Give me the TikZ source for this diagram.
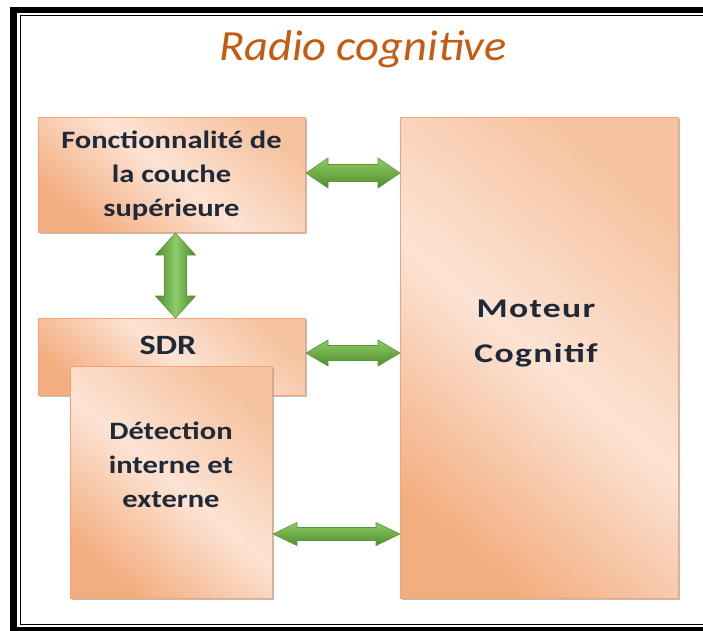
\documentclass[tikz,border=0pt]{standalone}
\usepackage{fontspec}
\setmainfont{Carlito}
\newfontfamily\boxfont[FakeStretch=1.22]{Carlito}
\newfontfamily\motfont[FakeStretch=1.32,LetterSpace=5]{Carlito}
\newfontfamily\titlefont[FakeStretch=1.08]{Carlito}
\usetikzlibrary{calc,shadows}
\definecolor{peachD}{HTML}{F3AE80}
\definecolor{peachM}{HTML}{F6C3A0}
\definecolor{peachL}{HTML}{FCE3D4}
\definecolor{peachB}{HTML}{EFA47A}
\definecolor{titleC}{HTML}{C55A11}
\definecolor{txtC}{HTML}{1F2937}
\definecolor{gLight}{HTML}{8CCB68}
\definecolor{gMid}{HTML}{70AD47}
\definecolor{gDark}{HTML}{4E8A2E}
\definecolor{gEdge}{HTML}{5A963A}
\tikzset{
  box/.style={draw=peachB, line width=1pt, inner sep=0pt,
    top color=peachM, bottom color=peachD, middle color=peachL, shading angle=-40,
    drop shadow={shadow xshift=1.6pt, shadow yshift=-1.6pt, fill=black!45, opacity=0.55},
    anchor=north west},
  boxtext/.style={text=txtC, align=center, font=\boxfont\bfseries\fontsize{25}{34}\selectfont},
  harrow/.style={draw=gEdge, line width=0.6pt, top color=gLight, bottom color=gDark, middle color=gMid},
  varrow/.style={draw=gEdge, line width=0.6pt, left color=gDark, right color=gDark, middle color=gLight},
}
% horizontal double block arrow: #1 left point, #2 right point, #3 head length, #4 half head width, #5 half shaft width
\newcommand\hblockarrow[5]{%
  \path[harrow] let \p1=#1, \p2=#2 in
    (\x1,\y1) -- (\x1+#3,\y1+#4) -- (\x1+#3,\y1+#5) -- (\x2-#3,\y1+#5) -- (\x2-#3,\y1+#4)
    -- (\x2,\y1) -- (\x2-#3,\y1-#4) -- (\x2-#3,\y1-#5) -- (\x1+#3,\y1-#5) -- (\x1+#3,\y1-#4) -- cycle;}
% vertical double block arrow: #1 top point, #2 bottom point
\newcommand\vblockarrow[5]{%
  \path[varrow] let \p1=#1, \p2=#2 in
    (\x1,\y1) -- (\x1+#4,\y1-#3) -- (\x1+#5,\y1-#3) -- (\x1+#5,\y2+#3) -- (\x1+#4,\y2+#3)
    -- (\x1,\y2) -- (\x1-#4,\y2+#3) -- (\x1-#5,\y2+#3) -- (\x1-#5,\y1-#3) -- (\x1-#4,\y1-#3) -- cycle;}
\begin{document}
\begin{tikzpicture}[x=1pt,y=-1pt]
\useasboundingbox (0,0) rectangle (703,630);
\clip (0,0) rectangle (703,630);
\fill[white] (0,0) rectangle (703,630);
% frame
\draw[line width=6.5pt] (13.5,10) rectangle (712,630);
\draw[line width=1.2pt] (20.5,15.8) rectangle (708,624.5);
% title
\node[text=titleC, font=\titlefont\itshape\fontsize{43}{50}\selectfont] (title) at (363,49) {Radio cognitive};
% boxes
\node[box, minimum width=267pt, minimum height=115pt] (f) at (38,117) {};
\node[box, minimum width=267pt, minimum height=77pt] (s) at (38,318) {};
\node[box, minimum width=202pt, minimum height=232pt] (d) at (70,366) {};
\node[box, minimum width=278pt, minimum height=481pt] (m) at (400,117) {};
% texts
\node[boxtext] (ft) at (171.5,175.5) {Fonctionnalit\'e de\\la couche\\sup\'erieure};
\node[boxtext, font=\boxfont\bfseries\fontsize{28}{34}\selectfont] (st) at (168,345) {SDR};
\node[boxtext] (dt) at (171,465) {D\'etection\\interne et\\externe};
\node[text=txtC, align=center, font=\motfont\bfseries\fontsize{27}{45}\selectfont] (mt) at (536,334) {Moteur\\Cognitif};
% arrows
\coordinate (a1s) at ([yshift=2pt]f.east);
\coordinate (a1e) at (m.west |- a1s);
\coordinate (a2s) at ([yshift=4pt]s.east);
\coordinate (a2e) at (m.west |- a2s);
\coordinate (a3s) at ([yshift=65pt]d.south east);
\coordinate (a3e) at (m.west |- a3s);
\coordinate (a4s) at ([xshift=3.5pt]f.south);
\coordinate (a4e) at ([xshift=3.5pt]s.north);
\hblockarrow{(a1s)}{(a1e)}{22pt}{15pt}{8.5pt}
\hblockarrow{(a2s)}{(a2e)}{22pt}{13pt}{7.5pt}
\hblockarrow{(a3s)}{(a3e)}{24pt}{11.5pt}{6.5pt}
\vblockarrow{(a4s)}{(a4e)}{22pt}{20pt}{11pt}
\end{tikzpicture}
\end{document}
